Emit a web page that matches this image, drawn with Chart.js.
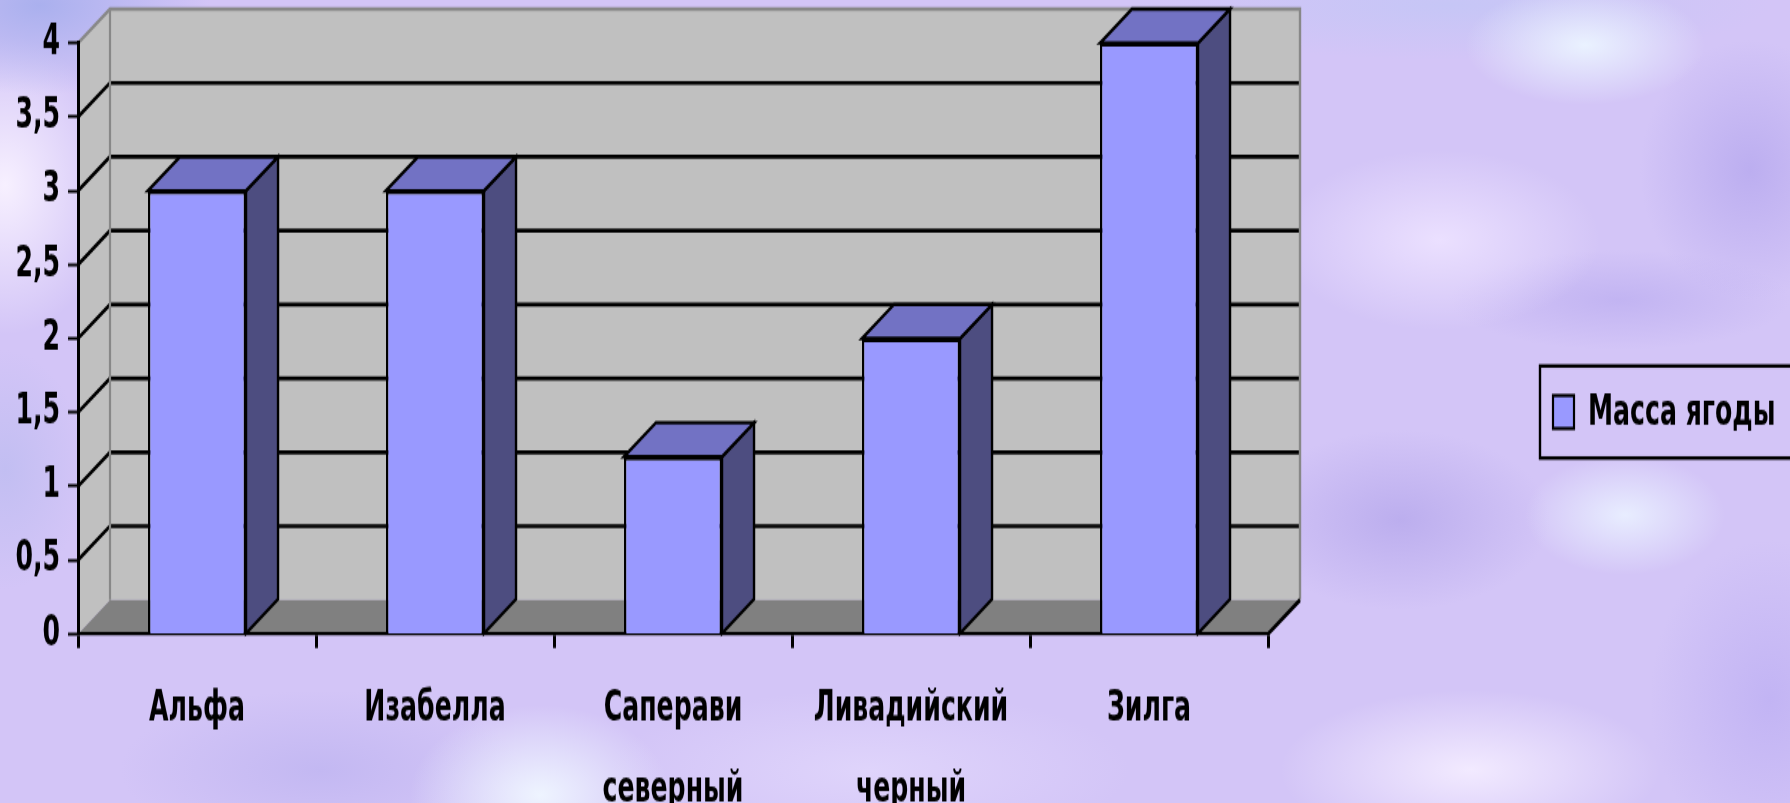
<!DOCTYPE html>
<html>
<head>
<meta charset="utf-8">
<script src="https://cdn.jsdelivr.net/npm/chart.js@4/dist/chart.umd.min.js"></script>
<style>
html,body{margin:0;padding:0;}
body{
  width:1790px;height:803px;overflow:hidden;
  background-color:#d3c5f7;
  background-image:
    radial-gradient(ellipse 170px 90px at 40px 5px,#aab0ee,rgba(170,176,238,0)),
    radial-gradient(ellipse 110px 150px at 5px 185px,#f7f0ff,rgba(247,240,255,0)),
    radial-gradient(ellipse 80px 120px at 5px 470px,#c2bef2,rgba(194,190,242,0)),
    radial-gradient(ellipse 130px 90px at 540px 795px,#eef4ff,rgba(238,244,255,0)),
    radial-gradient(ellipse 200px 80px at 320px 770px,#c3b8f2,rgba(195,184,242,0)),
    radial-gradient(ellipse 260px 80px at 870px 770px,#dfd4fb,rgba(223,212,251,0)),
    radial-gradient(ellipse 120px 60px at 1585px 45px,#eaf2ff,rgba(234,242,255,0)),
    radial-gradient(ellipse 160px 90px at 1440px 240px,#ebe0ff,rgba(235,224,255,0)),
    radial-gradient(ellipse 110px 130px at 1750px 170px,#bcaef0,rgba(188,174,240,0)),
    radial-gradient(ellipse 170px 50px at 1620px 300px,#c2b4f2,rgba(194,180,242,0)),
    radial-gradient(ellipse 100px 60px at 1625px 515px,#e8edff,rgba(232,237,255,0)),
    radial-gradient(ellipse 150px 90px at 1400px 520px,#bcaeee,rgba(188,174,238,0)),
    radial-gradient(ellipse 190px 80px at 1470px 770px,#f2eaff,rgba(242,234,255,0)),
    radial-gradient(ellipse 120px 160px at 1770px 700px,#c2b4f4,rgba(194,180,244,0)),
    radial-gradient(ellipse 320px 55px at 1450px 5px,#c6c6f6,rgba(198,198,246,0));
}
canvas{display:block;}
</style>
</head>
<body>
<canvas id="chart" width="1790" height="535" style="width:1790px;height:803px"></canvas>
<script>
// the slide is stretched vertically: canvas 535 high shown at 803
const H=535;
const K=803/H;
const FONT="'Liberation Sans Narrow','Arial Narrow','DejaVu Sans Condensed',sans-serif";

const categories=[['Альфа'],['Изабелла'],['Саперави','северный'],['Ливадийский','черный'],['Зилга']];
const berryMass=[3,3,1.2,2,4];
const seriesName='Масса ягоды';
const yMin=0, yMax=4, yStep=0.5;

const DX=32, DY=34/K;
const WALL='#c0c0c0', FLOOR='#808080', EDGE='#888888';
const FRONT='#9999ff', SIDE='#4d4d80', TOP='#7272c4';

function poly(ctx,pts,fill,stroke,lw){
    ctx.beginPath();
    pts.forEach((p,i)=>i?ctx.lineTo(p[0],p[1]):ctx.moveTo(p[0],p[1]));
    ctx.closePath();
    if(fill){ctx.fillStyle=fill;ctx.fill();}
    if(stroke){ctx.strokeStyle=stroke;ctx.lineWidth=lw;ctx.lineJoin='miter';ctx.stroke();}
}
function line(ctx,pts,color,lw){
    ctx.beginPath();
    pts.forEach((p,i)=>i?ctx.lineTo(p[0],p[1]):ctx.moveTo(p[0],p[1]));
    ctx.strokeStyle=color;ctx.lineWidth=lw;ctx.stroke();
}

const depthPlugin={
    id:'depth',
    beforeDraw(chart){
        const ctx=chart.ctx, a=chart.chartArea, y=chart.scales.y;
        ctx.save();
        // left wall, back wall, floor
        poly(ctx,[[a.left,a.top],[a.left+DX,a.top-DY],[a.left+DX,a.bottom-DY],[a.left,a.bottom]],WALL);
        ctx.fillStyle=WALL;
        ctx.fillRect(a.left+DX,a.top-DY,a.right-a.left,a.bottom-a.top);
        poly(ctx,[[a.left,a.bottom],[a.left+DX,a.bottom-DY],[a.right+DX,a.bottom-DY],[a.right,a.bottom]],FLOOR);
        // gridlines on the walls
        y.ticks.forEach(t=>{
            if(t.value<=yMin||t.value>=yMax) return;
            const py=y.getPixelForValue(t.value);
            line(ctx,[[a.left,py],[a.left+DX,py-DY],[a.right+DX,py-DY]],'#000',4/K);
        });
        // grey wall edges
        line(ctx,[[a.left,a.top],[a.left+DX,a.top-DY],[a.right+DX,a.top-DY],[a.right+DX,a.bottom-DY]],EDGE,2.4);
        line(ctx,[[a.left+DX,a.top-DY],[a.left+DX,a.bottom-DY]],EDGE,2.2);
        ctx.restore();
    },
    beforeDatasetsDraw(chart){
        const ctx=chart.ctx;
        ctx.save();
        chart.getDatasetMeta(0).data.forEach(bar=>{
            const p=bar.getProps(['x','y','base','width'],true);
            const l=p.x-p.width/2, r=p.x+p.width/2;
            poly(ctx,[[r,p.y],[r+DX,p.y-DY],[r+DX,p.base-DY],[r,p.base]],SIDE,'#000',2.4);
            poly(ctx,[[l,p.y],[l+DX,p.y-DY],[r+DX,p.y-DY],[r,p.y]],TOP,'#000',2.4);
        });
        ctx.restore();
    },
    afterDraw(chart){
        const ctx=chart.ctx, a=chart.chartArea;
        ctx.save();
        line(ctx,[[a.right,a.bottom],[a.right+DX,a.bottom-DY]],'#000',2.8);
        // legend
        const lx=1540, ly=366/K, lh=92/K;
        ctx.strokeStyle='#000';ctx.lineWidth=2.4;
        ctx.strokeRect(lx,ly,300,lh);
        const sh=33/K, sy=ly+lh/2-sh/2;
        ctx.fillStyle=FRONT;ctx.fillRect(lx+13,sy,21,sh);
        ctx.lineWidth=2.2;ctx.strokeRect(lx+13,sy,21,sh);
        ctx.fillStyle='#000';
        ctx.font='bold 28px '+FONT;
        ctx.textBaseline='middle';ctx.textAlign='left';
        ctx.fillText(chart.data.datasets[0].label,lx+48,ly+lh/2+1);
        ctx.restore();
    }
};

new Chart(document.getElementById('chart'),{
    type:'bar',
    data:{
        labels:categories,
        datasets:[{
            label:seriesName,
            data:berryMass,
            backgroundColor:FRONT,
            borderColor:'#000',
            borderWidth:2.4,
            barPercentage:0.412,
            categoryPercentage:1
        }]
    },
    options:{
        responsive:false,
        animation:false,
        devicePixelRatio:1,
        layout:{padding:{top:43/K,right:1790-1268,left:0,bottom:0}},
        plugins:{legend:{display:false},tooltip:{enabled:false}},
        scales:{
            x:{
                afterFit(s){s.height=H-634/K;},
                grid:{drawOnChartArea:false,tickLength:14/K,tickWidth:3,tickColor:'#000',color:'#000'},
                border:{color:'#000',width:3.4/K},
                ticks:{color:'#000',autoSkip:false,maxRotation:0,padding:13.5,font:{family:FONT,size:28,weight:'bold',lineHeight:1.95}}
            },
            y:{
                min:yMin,max:yMax,
                afterFit(s){s.width=78;},
                grid:{drawOnChartArea:false,tickLength:10,tickWidth:3/K,tickColor:'#000',color:'#000'},
                border:{color:'#000',width:3},
                ticks:{stepSize:yStep,color:'#000',padding:8,font:{family:FONT,size:28,weight:'bold'},
                    callback:v=>String(v).replace('.',',')}
            }
        }
    },
    plugins:[depthPlugin]
});
</script>
</body>
</html>
